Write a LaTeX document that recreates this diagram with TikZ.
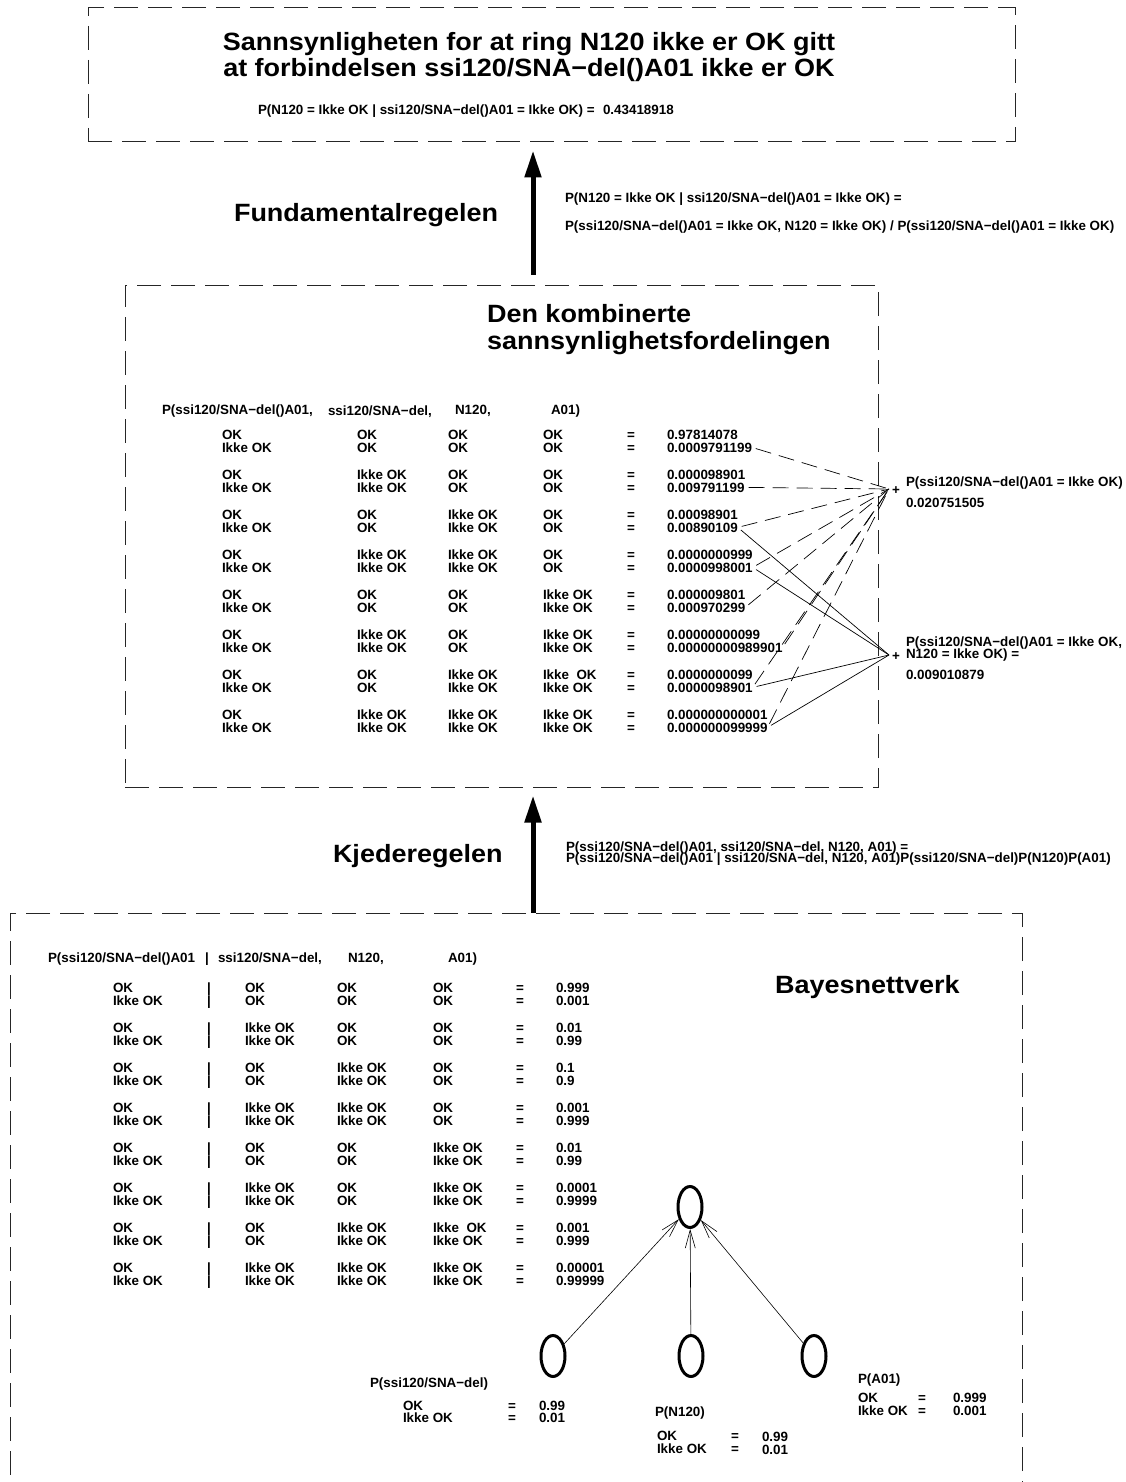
\documentclass[tikz,border=0pt]{standalone}
\usepackage{fontspec}
\setmainfont{Liberation Sans}
\newfontfamily\headfont{Liberation Sans}[FakeStretch=1.08]
\usetikzlibrary{arrows.meta,shapes.geometric}
\begin{document}
\begin{tikzpicture}[x=1pt,y=-1pt,
  sm/.style={font=\bfseries\fontsize{13.4}{13.4}\selectfont, inner sep=0pt, outer sep=0pt, anchor=base west},
  big/.style={font=\headfont\bfseries\fontsize{25}{25}\selectfont, inner sep=0pt, outer sep=0pt, anchor=base west},
  dashbox/.style={draw=black!85, line width=1pt, dash pattern=on 24pt off 10pt, rectangle, inner sep=0pt},
  bigarrow/.style={line width=5pt, -{Triangle[length=27pt,width=16pt]}},
  sumdash/.style={line width=0.7pt, dash pattern=on 16pt off 8pt, shorten <=4pt},
  sumline/.style={line width=0.7pt, shorten <=4pt},
  bnode/.style={ellipse, draw, line width=3pt, minimum width=24pt, minimum height=41pt, inner sep=0pt},
  bnarrow/.style={line width=0.6pt, -{Straight Barb[length=18pt,width=10pt]}}
]
\useasboundingbox (0,0) rectangle (1125,1482);

% ---------- frames ----------
\node[dashbox, minimum width=927pt, minimum height=134pt] (topbox) at (551.5,75) {};
\node[dashbox, minimum width=753pt, minimum height=502pt] (midbox) at (501.5,536) {};
\node[dashbox, minimum width=1012pt, minimum height=600pt] (botbox) at (516,1213) {};
\coordinate (ax) at (533,0);

% ---------- result ----------
\node[big, anchor=base] (t1) at (529,51) {Sannsynligheten for at ring N120 ikke er OK gitt};
\node[big, anchor=base] (t2) at (529,77) {at forbindelsen ssi120/SNA−del()A01 ikke er OK};
\node[sm] (q) at (258,115) {P(N120 = Ikke OK | ssi120/SNA−del()A01 = Ikke OK) =};
\node[sm] (qv) at (603,115) {0.43418918};

% ---------- fundamental rule ----------
\draw[bigarrow, shorten <=10pt, shorten >=8pt] (midbox.north -| ax) -- (topbox.south -| ax);
\node[big] (fr) at (234,221) {Fundamentalregelen};
\node[sm] (f1) at (565,202) {P(N120 = Ikke OK | ssi120/SNA−del()A01 = Ikke OK) =};
\node[sm] (f2) at (565,230) {P(ssi120/SNA−del()A01 = Ikke OK, N120 = Ikke OK) / P(ssi120/SNA−del()A01 = Ikke OK)};

% ---------- joint distribution ----------
\node[big] (m1) at (487,322) {Den kombinerte};
\node[big] (m2) at (487,349) {sannsynlighetsfordelingen};
\node[sm] (mh1) at (162,414) {P(ssi120/SNA−del()A01,};
\node[sm] (mh2) at (328,415) {ssi120/SNA−del,};
\node[sm] (mh3) at (455,414) {N120,};
\node[sm] (mh4) at (551,414) {A01)};

\foreach \k/\a/\b/\c/\d/\va/\vb in {
  0/OK/OK/OK/OK/0.97814078/0.0009791199,
  1/Ikke OK/OK/OK/OK/0.000098901/0.009791199,
  2/OK/Ikke OK/OK/OK/0.00098901/0.00890109,
  3/Ikke OK/Ikke OK/OK/OK/0.0000000999/0.0000998001,
  4/OK/OK/Ikke OK/Ikke OK/0.000009801/0.000970299,
  5/Ikke OK/OK/Ikke OK/Ikke OK/0.00000000099/0.00000000989901,
  6/OK/Ikke OK/Ikke~ OK/Ikke OK/0.0000000099/0.0000098901,
  7/Ikke OK/Ikke OK/Ikke OK/Ikke OK/0.000000000001/0.000000099999}{
  \pgfmathsetmacro\ya{439+40*\k}
  \pgfmathsetmacro\yb{452+40*\k}
  \node[sm] (ma1\k) at (222,\ya) {OK};
  \node[sm] (mb1\k) at (222,\yb) {Ikke OK};
  \node[sm] (ma2\k) at (357,\ya) {\a};
  \node[sm] (mb2\k) at (357,\yb) {\a};
  \node[sm] (ma3\k) at (448,\ya) {\b};
  \node[sm] (mb3\k) at (448,\yb) {\b};
  \node[sm] (ma4\k) at (543,\ya) {\c};
  \node[sm] (mb4\k) at (543,\yb) {\d};
  \node[sm] (mae\k) at (627,\ya) {=};
  \node[sm] (mbe\k) at (627,\yb) {=};
  \node[sm] (mva\k) at (667,\ya) {\va};
  \node[sm] (mvb\k) at (667,\yb) {\vb};
}

% sums
\coordinate (sumA) at (889,489);
\coordinate (sumB) at (889,655);
\foreach \k in {0,...,7} \draw[sumdash] (mvb\k.east) -- (sumA);
\foreach \k in {2,3,6,7} \draw[sumline] (mvb\k.east) -- (sumB);
\node[sm] (plusA) at (892,494) {+};
\node[sm] (sa1) at (906,486) {P(ssi120/SNA−del()A01 = Ikke OK)};
\node[sm] (sa2) at (906,507) {0.020751505};
\node[sm] (plusB) at (892,660) {+};
\node[sm] (sb1) at (906,646) {P(ssi120/SNA−del()A01 = Ikke OK,};
\node[sm] (sb2) at (906,658) {N120 = Ikke OK) =};
\node[sm] (sb3) at (906,679) {0.009010879};

% ---------- chain rule ----------
\draw[bigarrow, shorten >=8pt] (botbox.north -| ax) -- (midbox.south -| ax);
\node[big] (kr) at (333,862) {Kjederegelen};
\node[sm] (k1) at (566,851) {P(ssi120/SNA−del()A01, ssi120/SNA−del, N120, A01) =};
\node[sm] (k2) at (566,862) {P(ssi120/SNA−del()A01 | ssi120/SNA−del, N120, A01)P(ssi120/SNA−del)P(N120)P(A01)};

% ---------- Bayesian network ----------
\node[big] (bn) at (775,993) {Bayesnettverk};
\node[sm] (bh1) at (48,962) {P(ssi120/SNA−del()A01};
\node[sm] (bh0) at (205,962) {|};
\node[sm] (bh2) at (218,962) {ssi120/SNA−del,};
\node[sm] (bh3) at (348,962) {N120,};
\node[sm] (bh4) at (448,962) {A01)};

\foreach \k/\a/\b/\c/\d/\va/\vb in {
  0/OK/OK/OK/OK/0.999/0.001,
  1/Ikke OK/OK/OK/OK/0.01/0.99,
  2/OK/Ikke OK/OK/OK/0.1/0.9,
  3/Ikke OK/Ikke OK/OK/OK/0.001/0.999,
  4/OK/OK/Ikke OK/Ikke OK/0.01/0.99,
  5/Ikke OK/OK/Ikke OK/Ikke OK/0.0001/0.9999,
  6/OK/Ikke OK/Ikke~ OK/Ikke OK/0.001/0.999,
  7/Ikke OK/Ikke OK/Ikke OK/Ikke OK/0.00001/0.99999}{
  \pgfmathsetmacro\ya{992+40*\k}
  \pgfmathsetmacro\yb{1005+40*\k}
  \node[sm] (ba1\k) at (113,\ya) {OK};
  \node[sm] (bb1\k) at (113,\yb) {Ikke OK};
  \node[sm] (bab\k) at (207,\ya) {|};
  \node[sm] (bbb\k) at (207,\yb) {|};
  \node[sm] (ba2\k) at (245,\ya) {\a};
  \node[sm] (bb2\k) at (245,\yb) {\a};
  \node[sm] (ba3\k) at (337,\ya) {\b};
  \node[sm] (bb3\k) at (337,\yb) {\b};
  \node[sm] (ba4\k) at (433,\ya) {\c};
  \node[sm] (bb4\k) at (433,\yb) {\d};
  \node[sm] (bae\k) at (516,\ya) {=};
  \node[sm] (bbe\k) at (516,\yb) {=};
  \node[sm] (bva\k) at (556,\ya) {\va};
  \node[sm] (bvb\k) at (556,\yb) {\vb};
}

\node[bnode] (child) at (690,1207) {};
\node[bnode] (pssi) at (553,1356) {};
\node[bnode] (pn) at (691,1356) {};
\node[bnode] (pa) at (814,1356) {};
\draw[bnarrow] (pssi) -- (child);
\draw[bnarrow] (pn) -- (child);
\draw[bnarrow] (pa) -- (child);

\node[sm] (lssi) at (370,1387) {P(ssi120/SNA−del)};
\node[sm] (lssi1) at (403,1410) {OK};
\node[sm] (lssi1e) at (508,1410) {=};
\node[sm] (lssi1v) at (539,1410) {0.99};
\node[sm] (lssi2) at (403,1422) {Ikke OK};
\node[sm] (lssi2e) at (508,1422) {=};
\node[sm] (lssi2v) at (539,1422) {0.01};

\node[sm] (ln) at (655,1416) {P(N120)};
\node[sm] (ln1) at (657,1440) {OK};
\node[sm] (ln1e) at (731,1440) {=};
\node[sm] (ln1v) at (762,1441) {0.99};
\node[sm] (ln2) at (657,1453) {Ikke OK};
\node[sm] (ln2e) at (731,1453) {=};
\node[sm] (ln2v) at (762,1454) {0.01};

\node[sm] (la) at (858,1383) {P(A01)};
\node[sm] (la1) at (858,1402) {OK};
\node[sm] (la1e) at (918,1402) {=};
\node[sm] (la1v) at (953,1402) {0.999};
\node[sm] (la2) at (858,1415) {Ikke OK};
\node[sm] (la2e) at (918,1415) {=};
\node[sm] (la2v) at (953,1415) {0.001};
\end{tikzpicture}
\end{document}
